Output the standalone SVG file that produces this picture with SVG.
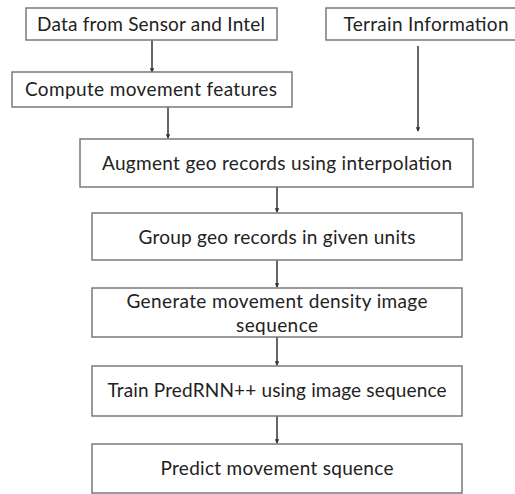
<svg xmlns="http://www.w3.org/2000/svg" width="515" height="494" viewBox="0 0 515 494">
<defs>
<style>
.box{fill:#fff;stroke:#7a7a7a;stroke-width:1.5}
.t{font-family:Lato,"Liberation Sans",Arial,sans-serif;font-size:19px;fill:#222;text-anchor:middle}
.c{stroke:#333;stroke-width:1.5;fill:none;marker-end:url(#ah)}
</style>
<marker id="ah" viewBox="0 0 6 6" refX="5" refY="3" markerWidth="3" markerHeight="3" orient="auto" markerUnits="strokeWidth">
<path d="M0,0 L6,3 L0,6 z" fill="#333"/>
</marker>
</defs>
<rect width="515" height="494" fill="#fff"/>
<g id="connectors">
<line class="c" x1="152" y1="40" x2="152" y2="72"/>
<line class="c" x1="168" y1="107" x2="168" y2="138"/>
<line class="c" x1="418" y1="46" x2="418" y2="131"/>
<line class="c" x1="277" y1="187" x2="277" y2="212"/>
<line class="c" x1="277" y1="260" x2="277" y2="287"/>
<line class="c" x1="277" y1="337" x2="277" y2="365"/>
<line class="c" x1="277" y1="416" x2="277" y2="443"/>
</g>
<g id="n1"><rect class="box" x="26" y="8" width="251" height="32"/><text class="t" x="151" y="31" textLength="228">Data from Sensor and Intel</text></g>
<g id="n2"><rect class="box" x="326" y="8" width="192" height="32"/><text class="t" x="426" y="31" textLength="165">Terrain Information</text></g>
<g id="n3"><rect class="box" x="12" y="72" width="280" height="35"/><text class="t" x="151" y="96" textLength="252">Compute movement features</text></g>
<g id="n4"><rect class="box" x="80" y="139" width="393" height="48"/><text class="t" x="277" y="170" textLength="350">Augment geo records using interpolation</text></g>
<g id="n5"><rect class="box" x="92" y="213" width="370" height="47"/><text class="t" x="277" y="244" textLength="277">Group geo records in given units</text></g>
<g id="n6"><rect class="box" x="92" y="288" width="370" height="49"/><text class="t" x="277" y="308" textLength="301">Generate movement density image</text><text class="t" x="277" y="332" textLength="82">sequence</text></g>
<g id="n7"><rect class="box" x="92" y="366" width="370" height="50"/><text class="t" x="277" y="397" textLength="339">Train PredRNN++ using image sequence</text></g>
<g id="n8"><rect class="box" x="92" y="444" width="370" height="49"/><text class="t" x="277" y="475" textLength="233">Predict movement squence</text></g>
</svg>
